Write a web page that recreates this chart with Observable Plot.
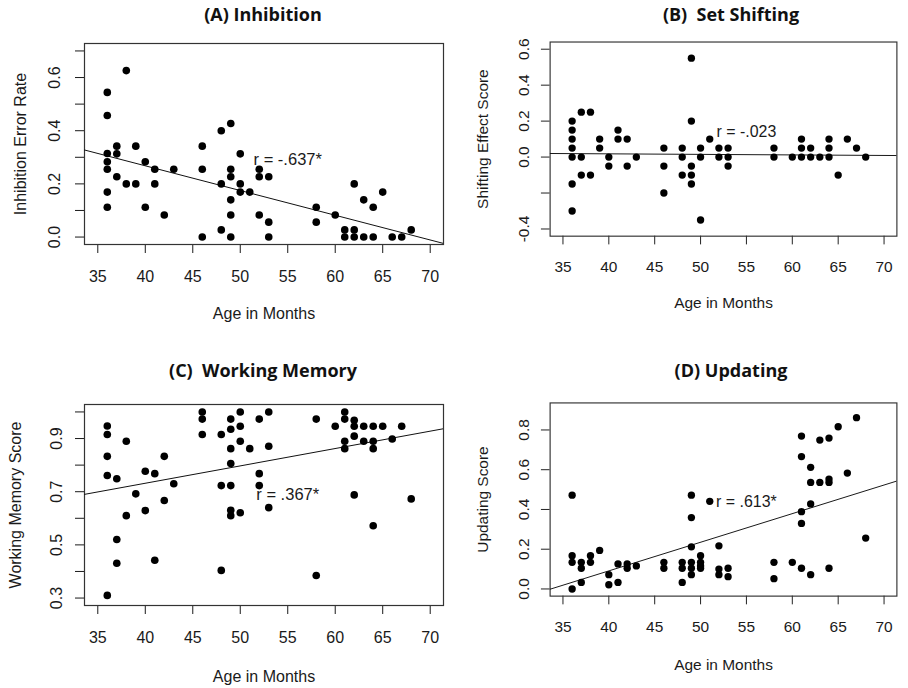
<!DOCTYPE html>
<html><head><meta charset="utf-8">
<script src="https://cdn.jsdelivr.net/npm/d3@7"></script>
<script src="https://cdn.jsdelivr.net/npm/@observablehq/plot@0.6"></script>
<style>
html,body{margin:0;padding:0;background:#fff;width:908px;height:688px;overflow:hidden;position:relative;}
.panel{position:absolute;}
.panel svg{overflow:visible;}
.title{position:absolute;font-family:"Open Sans",sans-serif;font-weight:700;font-size:18px;white-space:pre;transform:translate(-50%,-50%);color:#111;line-height:1;}
</style></head><body>
<script>
// ---- data ----
const xTicks = [35, 40, 45, 50, 55, 60, 65, 70];
const xLim = [35, 70];
const xTitle = "Age in Months";

const panelTitles = ["(A) Inhibition", "(B)  Set Shifting", "(C)  Working Memory", "(D) Updating"];
const yTitles = ["Inhibition Error Rate", "Shifting Effect Score", "Working Memory Score", "Updating Score"];
const rLabels = ["r = -.637*", "r = -.023", "r = .367*", "r = .613*"];
const rLabelX = [55, 55, 55, 55];
const rLabelY = [0.29, 0.14, 0.69, 0.44];
// fitted regression lines (intercept, slope per month) as drawn in the reference
const fitIntercept = [0.640, 0.030, 0.4706, -0.485];
const fitSlope = [-0.0093, -0.0003, 0.00653, 0.0144];

const inhAge = [36,36,36,36,36,36,36,37,37,37,38,38,39,39,40,40,41,41,42,43,46,46,46,48,48,48,49,49,49,49,49,49,50,50,50,51,52,52,52,53,53,53,58,58,60,61,61,62,62,62,63,63,64,64,65,66,67,68];
const inhVal = [0.544,0.457,0.314,0.283,0.255,0.169,0.112, 0.342,0.313,0.227, 0.626,0.2, 0.342,0.2, 0.283,0.112, 0.255,0.2, 0.083, 0.255, 0.342,0.255,0, 0.4,0.2,0.027, 0.427,0.255,0.227,0.14,0.083,0, 0.313,0.2,0.169, 0.169, 0.255,0.227,0.083, 0.227,0.056,0, 0.112,0.056, 0.083, 0.027,0, 0.2,0.027,0, 0.14,0, 0.112,0, 0.169, 0, 0, 0.027];
const inhYLim = [0, 0.7];
const inhYTicks = [0, 0.1, 0.2, 0.3, 0.4, 0.5, 0.6, 0.7];
const inhYLabels = ["0.0", "", "0.2", "", "0.4", "", "0.6", ""];

const shAge = [36,36,36,36,36,36,36,37,37,37,38,38,39,39,40,40,41,41,42,42,43,46,46,46,48,48,48,49,49,49,49,49,50,50,50,51,52,52,53,53,53,58,58,60,61,61,61,62,62,63,64,64,64,65,66,67,68];
const shVal = [0.2,0.15,0.1,0.05,0,-0.15,-0.3, 0.25,0,-0.1, 0.25,-0.1, 0.1,0.05, 0,-0.05, 0.15,0.1, 0.1,-0.05, 0, 0.05,-0.05,-0.2, 0.05,0,-0.1, 0.55,0.2,-0.05,-0.1,-0.15, 0.05,0,-0.35, 0.1, 0.05,0, 0.05,0,-0.05, 0.05,0, 0, 0.1,0.05,0, 0.05,0, 0, 0.1,0.05,0, -0.1, 0.1, 0.05, 0];
const shYLim = [-0.4, 0.6];
const shYTicks = [-0.4, -0.2, 0, 0.2, 0.4, 0.6];
const shYLabels = ["-0.4", "", "0.0", "0.2", "0.4", "0.6"];

const wmAge = [36,36,36,36,36,37,37,37,38,38,39,40,40,41,41,42,42,43,46,46,46,48,48,48,49,49,49,49,49,49,49,50,50,50,50,51,52,52,52,53,53,53,58,58,60,61,61,61,61,62,62,62,62,63,63,64,64,64,64,65,66,67,68];
const wmVal = [0.947,0.915,0.833,0.761,0.31, 0.749,0.52,0.431, 0.89,0.61, 0.692, 0.777,0.629, 0.768,0.442, 0.833,0.667, 0.73, 1.0,0.973,0.915, 0.915,0.723,0.404, 0.973,0.935,0.862,0.806,0.723,0.63,0.61, 1.0,0.946,0.89,0.621, 0.862, 0.973,0.768,0.723, 1.0,0.871,0.64, 0.973,0.385, 0.946, 1.0,0.973,0.89,0.862, 0.969,0.946,0.909,0.688, 0.946,0.89, 0.946,0.89,0.862,0.572, 0.946, 0.898, 0.946, 0.673];
const wmYLim = [0.3, 1.0];
const wmYTicks = [0.3, 0.4, 0.5, 0.6, 0.7, 0.8, 0.9, 1.0];
const wmYLabels = ["0.3", "", "0.5", "", "0.7", "", "0.9", ""];

const upAge = [36,36,36,36,37,37,37,38,38,39,40,40,41,41,42,42,43,46,46,48,48,48,49,49,49,49,49,49,50,50,50,50,51,52,52,52,53,53,58,58,60,61,61,61,61,61,62,62,62,62,63,63,64,64,64,64,65,66,67,68];
const upVal = [0.472,0.167,0.134,0, 0.134,0.104,0.033, 0.167,0.134, 0.194, 0.072,0.021, 0.126,0.033, 0.126,0.104, 0.116, 0.134,0.104, 0.134,0.104,0.033, 0.472,0.359,0.212,0.134,0.104,0.072, 0.167,0.134,0.116,0.104, 0.441, 0.217,0.1,0.072, 0.104,0.062, 0.134,0.052, 0.134, 0.769,0.666,0.389,0.33,0.104, 0.612,0.536,0.428,0.072, 0.749,0.536, 0.759,0.553,0.536,0.104, 0.816, 0.583, 0.862, 0.256];
const upYLim = [0, 0.9];
const upYTicks = [0, 0.2, 0.4, 0.6, 0.8];
const upYLabels = ["0.0", "0.2", "0.4", "0.6", "0.8"];

// ---- layout ----
const layout = [
  {left: 0,   top: 0,   w: 454, h: 330, mL: 84, mR: 11, mT: 43, mB: 86, tickDx: 30, titleDx: 64, xTitleDy: 69, tx: 263, ty: 14},
  {left: 454, top: 0,   w: 470, h: 330, mL: 99, mR: 12, mT: 43, mB: 86, tickDx: 27, titleDx: 69, xTitleDy: 69, tx: 277, ty: 14},
  {left: 0,   top: 330, w: 454, h: 358, mL: 84, mR: 11, mT: 74, mB: 83, tickDx: 28, titleDx: 69, xTitleDy: 71, tx: 263, ty: 40},
  {left: 454, top: 330, w: 470, h: 358, mL: 99, mR: 12, mT: 75, mB: 83, tickDx: 27, titleDx: 69, xTitleDy: 71, tx: 277, ty: 40}
];

const series = [
  {age: inhAge, val: inhVal, yLim: inhYLim, yTicks: inhYTicks, yLabels: inhYLabels},
  {age: shAge, val: shVal, yLim: shYLim, yTicks: shYTicks, yLabels: shYLabels},
  {age: wmAge, val: wmVal, yLim: wmYLim, yTicks: wmYTicks, yLabels: wmYLabels},
  {age: upAge, val: upVal, yLim: upYLim, yTicks: upYTicks, yLabels: upYLabels}
];

function expand(lim) { const d = (lim[1] - lim[0]) * 0.04; return [lim[0] - d, lim[1] + d]; }

series.forEach((s, i) => {
  const L = layout[i];
  const data = s.age.map((a, k) => ({age: a, v: s.val[k]}));
  const xd = expand(xLim), yd = expand(s.yLim);
  const fit = xd.map(x => ({age: x, v: fitIntercept[i] + fitSlope[i] * x}));
  const tickLab = s.yTicks.map((t, k) => ({t, s: s.yLabels[k]}));
  const svg = Plot.plot({
    width: L.w, height: L.h,
    marginLeft: L.mL, marginRight: L.mR, marginTop: L.mT, marginBottom: L.mB,
    x: {domain: xd},
    y: {domain: yd},
    style: {fontFamily: "'Liberation Sans', Arial, sans-serif", fontSize: "16px", color: "#1a1a1a", background: "transparent", overflow: "visible"},
    marks: [
      Plot.axisX({ticks: xTicks, tickSize: 9, tickPadding: 17, label: null, fontSize: 16, tickFormat: d => String(d)}),
      Plot.axisY({ticks: s.yTicks, tickSize: 9, label: null, tickFormat: () => ""}),
      Plot.text(tickLab, {y: "t", text: "s", frameAnchor: "left", dx: -L.tickDx, rotate: -90, textAnchor: "middle", lineAnchor: "middle", fontSize: 16}),
      Plot.frame({stroke: "#333", strokeWidth: 1.2}),
      Plot.line(fit, {x: "age", y: "v", stroke: "#111", strokeWidth: 1, clip: true}),
      Plot.dot(data, {x: "age", y: "v", r: 3.8, fill: "#000", stroke: null}),
      Plot.text([{x: rLabelX[i], y: rLabelY[i], s: rLabels[i]}], {x: "x", y: "y", text: "s", fontSize: 16.5}),
      Plot.text([xTitle], {frameAnchor: "bottom", dy: L.xTitleDy, lineAnchor: "middle", text: d => d, fontSize: 16}),
      Plot.text([yTitles[i]], {frameAnchor: "left", dx: -L.titleDx, rotate: -90, textAnchor: "middle", lineAnchor: "middle", text: d => d, fontSize: 16})
    ]
  });
  const div = document.createElement("div");
  div.className = "panel";
  div.style.left = L.left + "px";
  div.style.top = L.top + "px";
  div.appendChild(svg);
  document.body.appendChild(div);
  const t = document.createElement("div");
  t.className = "title";
  t.textContent = panelTitles[i];
  t.style.left = (L.left + L.tx) + "px";
  t.style.top = (L.top + L.ty) + "px";
  document.body.appendChild(t);
});
</script>
</body></html>
